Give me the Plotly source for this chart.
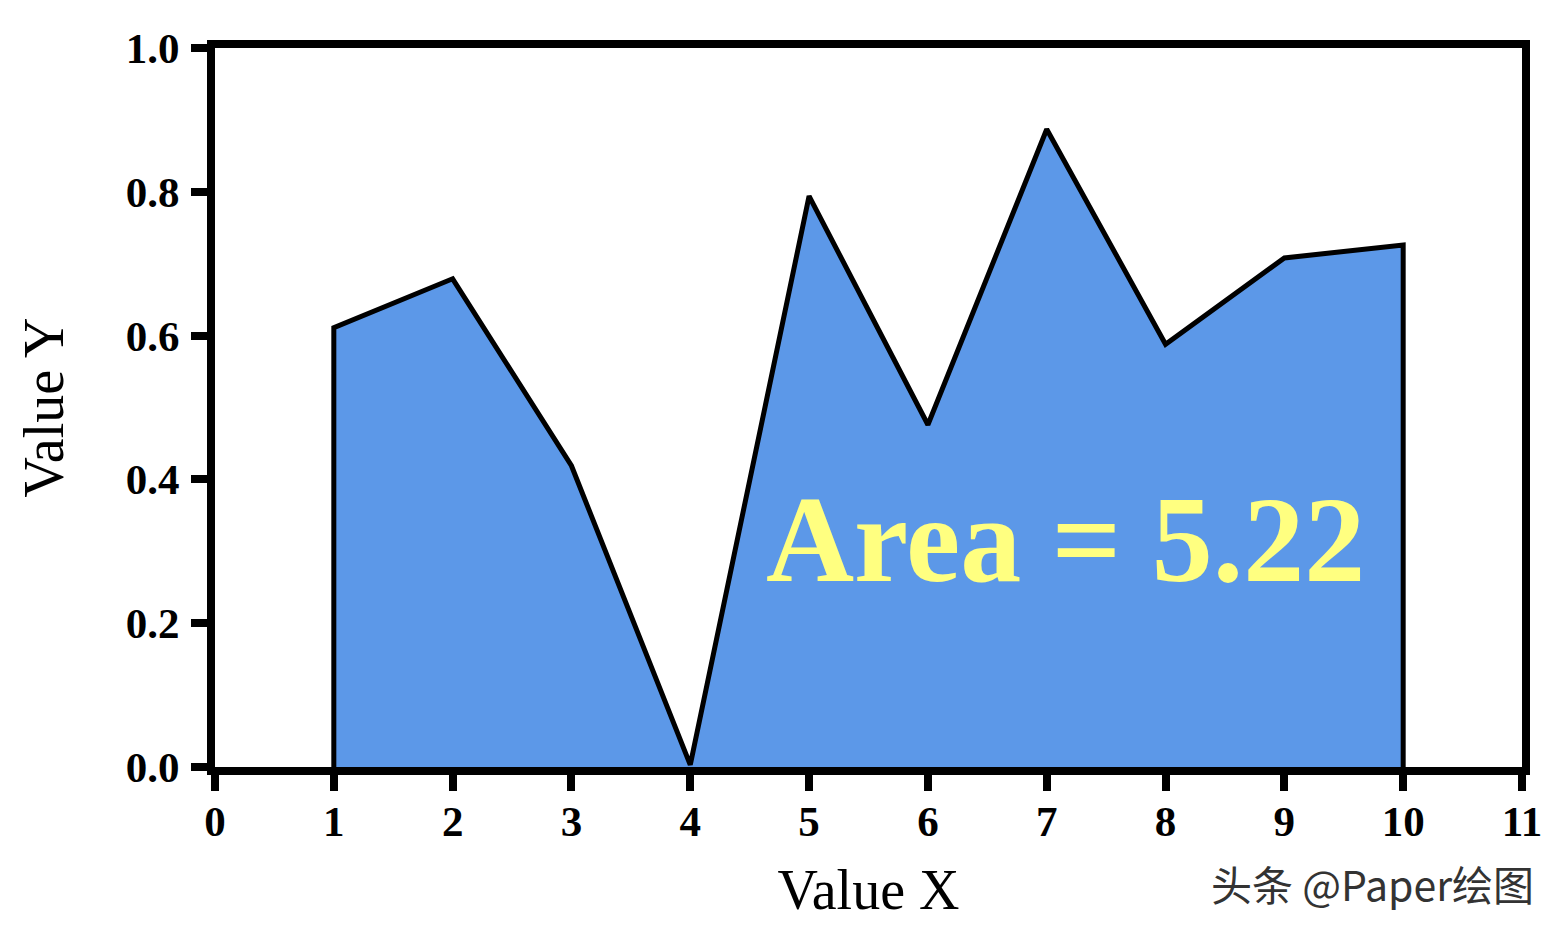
import plotly.graph_objects as go

x_vals = [1, 2, 3, 4, 5, 6, 7, 8, 9, 10]
y_vals = [0.611, 0.679, 0.419, 0.003, 0.794, 0.476, 0.887, 0.588, 0.708, 0.726]
x_ticks = list(range(0, 12))
y_ticks = [0.0, 0.2, 0.4, 0.6, 0.8, 1.0]
area_label = "Area = 5.22"

# closed outline (vertical edges down to zero at both ends)
px = [x_vals[0]] + x_vals + [x_vals[-1]]
py = [0] + y_vals + [0]

fig = go.Figure()
fig.add_trace(go.Scatter(
    x=px, y=py, mode="lines", fill="tozeroy",
    fillcolor="#5C98E8",
    line=dict(color="black", width=5),
    showlegend=False, hoverinfo="skip",
))

fig.add_annotation(
    x=7.16, y=0.316, xref="x", yref="y", text="<b>" + area_label + "</b>",
    showarrow=False,
    font=dict(family="Liberation Serif", size=122, color="#FFFF80"),
)

fig.add_annotation(
    x=(1372 - 213) / 1309, y=(767 - 883) / 719, xref="paper", yref="paper",
    text="头条 @Paper绘图", showarrow=False,
    font=dict(family="Noto Sans CJK SC", size=41, color="#333333"),
    xanchor="center", yanchor="middle",
)

axis_common = dict(
    showline=True, linewidth=8, linecolor="black", mirror=True,
    ticks="outside", ticklen=16, tickwidth=8, tickcolor="black",
    showgrid=False, zeroline=False, automargin=False,
    tickfont=dict(family="Liberation Serif", size=43, color="black", weight="bold"),
)

fig.update_xaxes(
    range=[0, 11], tickvals=x_ticks, ticktext=[str(t) for t in x_ticks],
    ticklabelstandoff=-7,
    title=dict(text="Value X", font=dict(family="Liberation Serif", size=56, color="black"), standoff=44),
    **axis_common,
)
fig.update_yaxes(
    range=[0, 1], tickvals=y_ticks, ticktext=["%.1f" % t for t in y_ticks],
    ticklabelstandoff=3,
    title=dict(text="Value Y", font=dict(family="Liberation Serif", size=56, color="black"), standoff=47),
    **axis_common,
)

fig.update_layout(
    width=1548, height=913,
    margin=dict(l=207, r=34, t=40, b=154),
    paper_bgcolor="white", plot_bgcolor="white",
)

fig.write_html("out.html")
